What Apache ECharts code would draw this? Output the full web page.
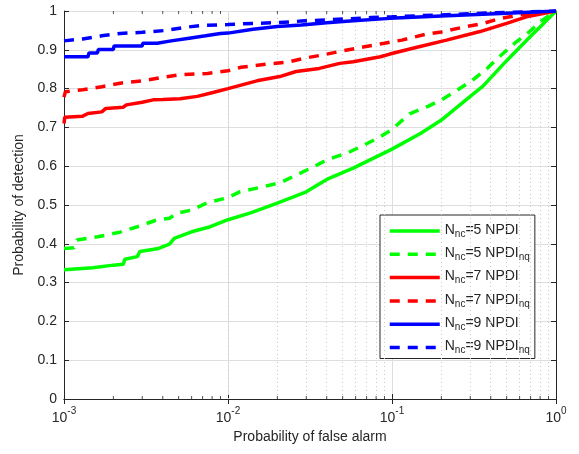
<!DOCTYPE html>
<html><head><meta charset="utf-8">
<script src="https://cdn.jsdelivr.net/npm/echarts@6/dist/echarts.min.js"></script>
<style>html,body{margin:0;padding:0;background:#fff}#c{width:579px;height:454px}</style>
</head><body><div id="c"></div>
<script>
// ---- data ----
const seriesNames = ['N_nc=5 NPDI', 'N_nc=5 NPDI_nq', 'N_nc=7 NPDI', 'N_nc=7 NPDI_nq', 'N_nc=9 NPDI', 'N_nc=9 NPDI_nq'];
const xTickLabels = ['10^-3', '10^-2', '10^-1', '10^0'];
const yTickLabels = ['0', '0.1', '0.2', '0.3', '0.4', '0.5', '0.6', '0.7', '0.8', '0.9', '1'];
const minorX = [0.002,0.003,0.004,0.005,0.006,0.007,0.008,0.009,0.02,0.03,0.04,0.05,0.06,0.07,0.08,0.09,0.2,0.3,0.4,0.5,0.6,0.7,0.8,0.9];

const g5x = [0.001,0.0015,0.002,0.0023,0.00235,0.0028,0.0029,0.0037,0.0044,0.0047,0.006,0.0078,0.01,0.0136,0.0198,0.03,0.04,0.058,0.1,0.15,0.2,0.3,0.36,0.5,0.7,0.85,1];
const g5y = [0.333,0.338,0.345,0.347,0.36,0.367,0.38,0.387,0.399,0.414,0.431,0.444,0.462,0.479,0.504,0.534,0.566,0.595,0.644,0.685,0.719,0.78,0.807,0.872,0.935,0.97,1];

const g5qx = [0.001,0.00115,0.0012,0.0016,0.0022,0.0028,0.0036,0.0044,0.0049,0.006,0.0075,0.01,0.0118,0.016,0.021,0.026,0.032,0.04,0.054,0.068,0.085,0.1,0.128,0.167,0.2,0.25,0.31,0.38,0.44,0.56,0.69,0.83,1];
const g5qy = [0.388,0.39,0.41,0.418,0.43,0.444,0.46,0.466,0.479,0.487,0.506,0.519,0.534,0.546,0.558,0.577,0.595,0.616,0.635,0.655,0.676,0.695,0.735,0.755,0.771,0.796,0.822,0.852,0.878,0.917,0.947,0.977,1];

const r7x = [0.001,0.00101,0.0013,0.0014,0.0017,0.0018,0.0023,0.0024,0.003,0.0035,0.004,0.0051,0.0065,0.0081,0.01,0.015,0.0207,0.026,0.036,0.048,0.058,0.085,0.097,0.134,0.215,0.344,0.5,0.66,1];
const r7y = [0.71,0.726,0.729,0.736,0.74,0.749,0.752,0.758,0.765,0.771,0.772,0.774,0.78,0.79,0.8,0.82,0.831,0.844,0.852,0.865,0.869,0.882,0.889,0.904,0.925,0.947,0.968,0.985,1];

const r7qx = [0.001,0.00102,0.0013,0.0017,0.0022,0.003,0.004,0.0051,0.0075,0.01,0.012,0.017,0.023,0.029,0.038,0.047,0.068,0.09,0.115,0.16,0.2,0.27,0.36,0.45,0.6,1];
const r7qy = [0.778,0.792,0.797,0.805,0.814,0.82,0.829,0.836,0.839,0.846,0.855,0.863,0.868,0.878,0.887,0.895,0.908,0.917,0.925,0.94,0.946,0.958,0.968,0.98,0.99,1];

const b9x = [0.001,0.0014,0.00142,0.0016,0.00162,0.002,0.00202,0.003,0.00302,0.0037,0.0045,0.0058,0.0073,0.009,0.01,0.0142,0.02,0.028,0.04,0.058,0.097,0.2,0.5,1];
const b9y = [0.882,0.882,0.892,0.892,0.901,0.901,0.91,0.91,0.917,0.917,0.923,0.93,0.936,0.942,0.943,0.953,0.96,0.964,0.97,0.975,0.981,0.987,0.994,1];

const b9qx = [0.001,0.0013,0.0017,0.0022,0.003,0.0042,0.0055,0.007,0.01,0.014,0.02,0.028,0.04,0.055,0.075,0.1,0.2,0.4,1];
const b9qy = [0.923,0.928,0.936,0.942,0.945,0.95,0.958,0.963,0.965,0.968,0.97,0.974,0.977,0.98,0.983,0.985,0.99,0.995,1];

const colors = ['#00ff00','#00ff00','#ff0000','#ff0000','#0000ff','#0000ff'];
const dashed = [false,true,false,true,false,true];
const xs = [g5x,g5qx,r7x,r7qx,b9x,b9qx];
const ys = [g5y,g5qy,r7y,r7qy,b9y,b9qy];

// ---- chart ----
const TXT = '#262626';
const FONT = '"Liberation Sans", Arial, sans-serif';
const FS = 14;
const chart = echarts.init(document.getElementById('c'), null, {renderer:'canvas'});

function zip(a,b){ return a.map((v,i)=>[v,b[i]]); }
function legendFmt(name){
  const m = name.match(/^N_nc(=\d NPDI)(_nq)?$/);
  return '{a|N}{b|nc}{a|' + m[1] + '}' + (m[2] ? '{b|nq}' : '');
}
function xFmt(v){
  const e = Math.round(Math.log10(v));
  const lab = xTickLabels.find(s => s === '10^' + e) || ('10^' + e);
  const p = lab.split('^');
  return '{b|' + p[0] + '}{s|' + p[1] + '}';
}

const lineSeries = seriesNames.map((n,i)=>({
  name: n, type:'line', xAxisIndex:0, yAxisIndex:0,
  data: zip(xs[i], ys[i]), showSymbol:false, symbol:'none',
  lineStyle:{color:colors[i], width:3.5, type: dashed[i] ? [10,8] : 'solid'},
  itemStyle:{color:colors[i]}, z: 10, animation:false, silent:true
}));

const option = {
  animation:false,
  textStyle:{fontFamily:FONT},
  grid:{left:64, right:23, top:11, bottom:55, containLabel:false},
  xAxis:[
    {type:'log', logBase:10, min:0.001, max:1, position:'bottom',
     axisLine:{show:true, lineStyle:{color:TXT, width:1}},
     axisTick:{show:true, inside:true, length:5, lineStyle:{color:TXT}},
     axisLabel:{formatter:xFmt, margin:7, color:TXT,
       rich:{b:{fontSize:FS, fontFamily:FONT, color:TXT, lineHeight:19, verticalAlign:'bottom'},
             s:{fontSize:10, fontFamily:FONT, color:TXT, lineHeight:11, verticalAlign:'top'}}},
     splitLine:{show:true, lineStyle:{color:'#dedede', width:1}},
     name:'Probability of false alarm', nameLocation:'middle', nameGap:30,
     nameTextStyle:{fontSize:FS, color:TXT, fontFamily:FONT}},
    {type:'log', logBase:10, min:0.001, max:1, position:'top',
     axisLine:{show:true, lineStyle:{color:TXT, width:1}},
     axisTick:{show:true, inside:true, length:5, lineStyle:{color:TXT}},
     axisLabel:{show:false}, splitLine:{show:false}}
  ],
  yAxis:[
    {type:'value', min:0, max:1, interval:0.1, position:'left',
     axisLine:{show:true, lineStyle:{color:TXT, width:1}},
     axisTick:{show:true, inside:true, length:5, lineStyle:{color:TXT}},
     axisLabel:{color:TXT, fontSize:FS, margin:7, fontFamily:FONT,
       formatter:(v)=> yTickLabels[Math.round(v*10)]},
     splitLine:{show:true, lineStyle:{color:'#dedede', width:1}},
     name:'Probability of detection', nameLocation:'middle', nameGap:34,
     nameTextStyle:{fontSize:FS, color:TXT, fontFamily:FONT}},
    {type:'value', min:0, max:1, interval:0.1, position:'right',
     axisLine:{show:true, lineStyle:{color:TXT, width:1}},
     axisTick:{show:true, inside:true, length:5, lineStyle:{color:TXT}},
     axisLabel:{show:false}, splitLine:{show:false}}
  ],
  legend:{
    data: seriesNames, orient:'vertical', left:380, top:215,
    itemStyle:{opacity:0}, lineStyle:{width:3.5},
    backgroundColor:'#fff', borderColor:TXT, borderWidth:1,
    padding:[4,5,3,8], itemWidth:50, itemHeight:14, itemGap:3.3,
    formatter: legendFmt, selectedMode:false,
    textStyle:{color:TXT, fontFamily:FONT,
      rich:{a:{fontSize:FS, fontFamily:FONT, color:TXT, lineHeight:16, verticalAlign:'top'},
            b:{fontSize:10, fontFamily:FONT, color:TXT, lineHeight:10, padding:[10,0,0,0], verticalAlign:'bottom'}}}
  },
  series: [
    {type:'line', name:'_minorgrid', data:[], xAxisIndex:0, yAxisIndex:0, silent:true,
     markLine:{silent:true, symbol:['none','none'], label:{show:false}, animation:false,
       lineStyle:{color:'#c8c8c8', width:1, type:[1,3]},
       data: minorX.map(v=>({xAxis:v}))}, z:1},
    {type:'scatter', name:'_minortickB', xAxisIndex:0, yAxisIndex:0, silent:true, clip:false,
     symbol:'rect', symbolSize:[1,3], symbolOffset:[0,-1.5],
     itemStyle:{color:TXT}, data: minorX.map(v=>[v,0]), z:5},
    {type:'scatter', name:'_minortickT', xAxisIndex:0, yAxisIndex:0, silent:true, clip:false,
     symbol:'rect', symbolSize:[1,3], symbolOffset:[0,1.5],
     itemStyle:{color:TXT}, data: minorX.map(v=>[v,1]), z:5}
  ].concat(lineSeries)
};
chart.setOption(option);
</script></body></html>
